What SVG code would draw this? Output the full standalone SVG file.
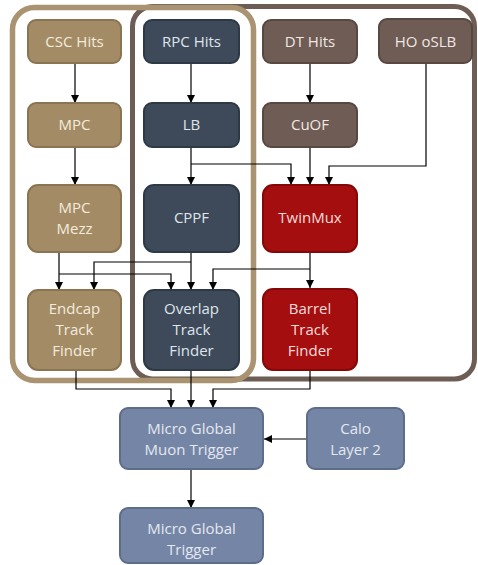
<svg xmlns="http://www.w3.org/2000/svg" width="478" height="565" viewBox="0 0 478 565">
<defs>
<marker id="ah" viewBox="0 0 10 10" refX="10" refY="5" markerWidth="8" markerHeight="8" markerUnits="userSpaceOnUse" orient="auto">
<path d="M0,0 L10,5 L0,10 z" fill="#000"/>
</marker>
<style>
.n rect{stroke-width:2}
.tan rect{fill:#a38b66;stroke:#8a7452}
.tan text{fill:#f3ebdd}
.slate rect{fill:#3e4a5a;stroke:#2e3946}
.slate text{fill:#dfe5ec}
.brn rect{fill:#6e5c55;stroke:#584842}
.brn text{fill:#f1e8e4}
.red rect{fill:#a50e0e;stroke:#850808}
.red text{fill:#f8dcdc}
.blu rect{fill:#7585a5;stroke:#5d6c89}
.blu text{fill:#e3e8f1}
text{font-family:"Open Sans","Noto Sans","DejaVu Sans",sans-serif;font-size:15px;text-anchor:middle}
#connectors path{fill:none;stroke:#000;stroke-width:1.2;marker-end:url(#ah)}
#connectors path.nm{marker-end:none}
</style>
</defs>
<rect width="478" height="565" fill="#fff"/>
<g id="frames" fill="none">
<rect x="132.5" y="6.5" width="342" height="372.5" rx="20" stroke="#6e5d55" stroke-width="5"/>
<rect x="12.5" y="7.5" width="241" height="373" rx="22" stroke="#a99371" stroke-width="5.5"/>
</g>
<g id="connectors">
<path d="M75,63 V103"/>
<path d="M75,147 V185"/>
<path d="M191,63 V103"/>
<path d="M191,147 V185"/>
<path d="M191,164 H291 V185"/>
<path d="M310,63 V103"/>
<path d="M310,147 V185"/>
<path d="M426,63 V166 H329 V185"/>
<path d="M59,252 V290"/>
<path d="M59,274 H171 V290"/>
<path d="M191,252 V290"/>
<path d="M191,262 H94 V290"/>
<path d="M310,252 V288"/>
<path d="M310,269 H213 V290"/>
<path d="M76,370 V389 H171 V408"/>
<path d="M191,370 V408"/>
<path d="M310,370 V389 H213 V408"/>
<path d="M307,439 H264"/>
<path d="M191,469 V508"/>
</g>
<g id="csc" class="n tan"><rect x="28" y="20" width="93" height="43" rx="8"/><text x="74.5" y="47">CSC Hits</text></g>
<g id="rpc" class="n slate"><rect x="144" y="20" width="95" height="43" rx="8"/><text x="191.5" y="47">RPC Hits</text></g>
<g id="dt" class="n brn"><rect x="263" y="20" width="94" height="43" rx="8"/><text x="310" y="47">DT Hits</text></g>
<g id="ho" class="n brn"><rect x="379" y="19" width="93" height="44" rx="8"/><text x="425.5" y="47">HO oSLB</text></g>
<g id="mpc" class="n tan"><rect x="28" y="103" width="93" height="44" rx="8"/><text x="74.5" y="130">MPC</text></g>
<g id="lb" class="n slate"><rect x="144" y="103" width="95" height="44" rx="8"/><text x="191.5" y="130">LB</text></g>
<g id="cuof" class="n brn"><rect x="263" y="103" width="94" height="44" rx="8"/><text x="310" y="130">CuOF</text></g>
<g id="mpcmezz" class="n tan"><rect x="28" y="185" width="93" height="67" rx="10"/><text x="74.5" y="213">MPC</text><text x="74.5" y="234">Mezz</text></g>
<g id="cppf" class="n slate"><rect x="144" y="185" width="95" height="67" rx="10"/><text x="191.5" y="223">CPPF</text></g>
<g id="twinmux" class="n red"><rect x="263" y="185" width="94" height="67" rx="10"/><text x="310" y="223">TwinMux</text></g>
<g id="endcap" class="n tan"><rect x="28" y="290" width="93" height="80" rx="10"/><text x="74.5" y="314">Endcap</text><text x="74.5" y="335">Track</text><text x="74.5" y="356">Finder</text></g>
<g id="overlap" class="n slate"><rect x="144" y="290" width="95" height="80" rx="10"/><text x="191.5" y="314">Overlap</text><text x="191.5" y="335">Track</text><text x="191.5" y="356">Finder</text></g>
<g id="barrel" class="n red"><rect x="263" y="289" width="94" height="81" rx="10"/><text x="310" y="314">Barrel</text><text x="310" y="335">Track</text><text x="310" y="356">Finder</text></g>
<g id="mgmt" class="n blu"><rect x="120" y="408" width="143" height="61" rx="8"/><text x="191.5" y="434">Micro Global</text><text x="191.5" y="455">Muon Trigger</text></g>
<g id="calo" class="n blu"><rect x="307" y="408" width="97" height="61" rx="8"/><text x="355.5" y="434">Calo</text><text x="355.5" y="455">Layer 2</text></g>
<g id="mgt" class="n blu"><rect x="120" y="508" width="143" height="55" rx="8"/><text x="191.5" y="534">Micro Global</text><text x="191.5" y="555">Trigger</text></g>
</svg>
